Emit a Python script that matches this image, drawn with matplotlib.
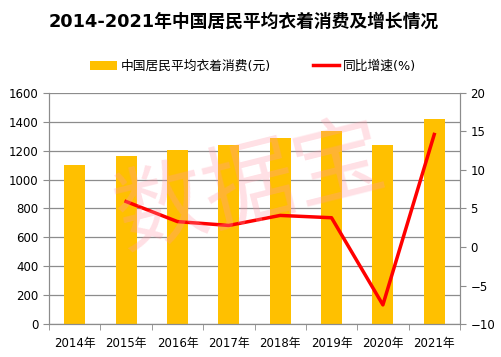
import numpy as np
import matplotlib.pyplot as plt

plt.rcParams['font.family'] = ['DejaVu Sans', 'Noto Sans CJK SC']

years = ['2014年', '2015年', '2016年', '2017年', '2018年', '2019年', '2020年', '2021年']
spend = [1099, 1164, 1203, 1238, 1289, 1338, 1238, 1419]
growth_years = years[1:]
growth = [5.9, 3.3, 2.8, 4.1, 3.8, -7.5, 14.6]

fig = plt.figure(figsize=(5.01, 3.57), dpi=100)
ax = fig.add_axes([0.098, 0.092, 0.820, 0.648])
x = np.arange(len(years))
bars = ax.bar(x, spend, width=0.41, color='#FFC000', zorder=2, label='中国居民平均衣着消费(元)')
ax.set_xlim(-0.5, len(years) - 0.5)
ax.set_ylim(0, 1600)
ax.set_yticks(range(0, 1601, 200))
ax.grid(axis='y', color='#8c8c8c', lw=0.9, zorder=0)
ax.set_xticks(x)
ax.set_xticklabels(years, fontsize=8.5)
ax.set_xticks(np.arange(-0.5, len(years)), minor=True)
ax.tick_params(axis='x', which='major', length=0, pad=9)
ax.tick_params(axis='x', which='minor', length=4, color='#8c8c8c')
ax.tick_params(axis='y', labelsize=8.5, length=4, color='#8c8c8c')
for s in ax.spines.values():
    s.set_color('#8c8c8c')
ax.spines['top'].set_visible(False)

ax2 = ax.twinx()
gx = np.arange(1, len(years))
line, = ax2.plot(gx, growth, color='#FF0000', lw=2.5, zorder=3, label='同比增速(%)')
ax2.set_ylim(-10, 20)
ax2.set_yticks(range(-10, 21, 5))
ax2.tick_params(axis='y', labelsize=8.5, length=4, color='#8c8c8c')
for s in ax2.spines.values():
    s.set_color('#8c8c8c')
ax2.spines['top'].set_visible(False)

fig.text(0.487, 0.938, '2014-2021年中国居民平均衣着消费及增长情况', ha='center', va='center',
         fontsize=12.8, fontweight='bold')
fig.legend([bars, line], ['中国居民平均衣着消费(元)', '同比增速(%)'], loc='center',
           bbox_to_anchor=(0.505, 0.815), ncol=2, frameon=False, fontsize=9.2,
           handlelength=2.1, handletextpad=0.25, columnspacing=3.3)

fig.text(0.5, 0.47, '数据宝', ha='center', va='center', fontsize=66, rotation=14,
         color='#FF98A8', alpha=0.3, zorder=10)

plt.savefig('out.png', dpi=100)
